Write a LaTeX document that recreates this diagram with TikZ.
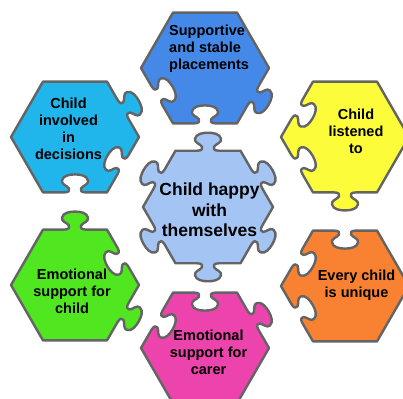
\documentclass[tikz,border=0pt]{standalone}
\usepackage{fontspec}
\setmainfont{Liberation Sans}
\usepackage{tikz}
\definecolor{PieceGray}{RGB}{100,100,100}
\definecolor{pcCentre}{RGB}{164,196,244}
\definecolor{pcBlue}{RGB}{68,137,232}
\definecolor{pcCyan}{RGB}{32,181,235}
\definecolor{pcYellow}{RGB}{252,252,58}
\definecolor{pcGreen}{RGB}{80,230,32}
\definecolor{pcOrange}{RGB}{248,130,50}
\definecolor{pcMagenta}{RGB}{236,67,172}

% one edge of a hexagon piece: #1 start corner angle, #2 radius, #3 = 1 tab out, -1 tab in
\newcommand{\jigedge}[3]{%
  -- ({#1+30+atan(-11/(#2*0.866))}:{sqrt((#2*0.866)^2+121)})
  .. controls ({#1+30+atan(-6/(#2*0.866))}:{sqrt((#2*0.866)^2+36)})
  and ({#1+30+atan(-5/(#2*0.866+2*(#3)))}:{sqrt((#2*0.866+2*(#3))^2+25)})
  .. ({#1+30+atan(-6/(#2*0.866+4*(#3)))}:{sqrt((#2*0.866+4*(#3))^2+36)})
  .. controls ({#1+30+atan(-8/(#2*0.866+7*(#3)))}:{sqrt((#2*0.866+7*(#3))^2+64)})
  and ({#1+30+atan(-14/(#2*0.866+8*(#3)))}:{sqrt((#2*0.866+8*(#3))^2+196)})
  .. ({#1+30+atan(-13/(#2*0.866+12*(#3)))}:{sqrt((#2*0.866+12*(#3))^2+169)})
  .. controls ({#1+30+atan(-12/(#2*0.866+17*(#3)))}:{sqrt((#2*0.866+17*(#3))^2+144)})
  and ({#1+30+atan(-5/(#2*0.866+18*(#3)))}:{sqrt((#2*0.866+18*(#3))^2+25)})
  .. ({#1+30}:{#2*0.866+18*(#3)})
  .. controls ({#1+30+atan(5/(#2*0.866+18*(#3)))}:{sqrt((#2*0.866+18*(#3))^2+25)})
  and ({#1+30+atan(12/(#2*0.866+17*(#3)))}:{sqrt((#2*0.866+17*(#3))^2+144)})
  .. ({#1+30+atan(13/(#2*0.866+12*(#3)))}:{sqrt((#2*0.866+12*(#3))^2+169)})
  .. controls ({#1+30+atan(14/(#2*0.866+8*(#3)))}:{sqrt((#2*0.866+8*(#3))^2+196)})
  and ({#1+30+atan(8/(#2*0.866+7*(#3)))}:{sqrt((#2*0.866+7*(#3))^2+64)})
  .. ({#1+30+atan(6/(#2*0.866+4*(#3)))}:{sqrt((#2*0.866+4*(#3))^2+36)})
  .. controls ({#1+30+atan(5/(#2*0.866+2*(#3)))}:{sqrt((#2*0.866+2*(#3))^2+25)})
  and ({#1+30+atan(6/(#2*0.866))}:{sqrt((#2*0.866)^2+36)})
  .. ({#1+30+atan(11/(#2*0.866))}:{sqrt((#2*0.866)^2+121)})
  -- (#1+60:#2)}

\begin{document}
\begin{tikzpicture}[x=1pt,y=1pt,
  jigpiece/.style={draw=PieceGray,line width=2.4pt,line join=round},
  pctext/.style={font=\bfseries\fontsize{14.5}{17}\selectfont,align=center,inner sep=0pt}
]
\useasboundingbox (0,0) rectangle (403,398);

% centre
\begin{scope}[shift={(208,191)}]
\draw[jigpiece,fill=pcCentre] (0:65) \jigedge{0}{65}{1} \jigedge{60}{65}{1} \jigedge{120}{65}{1}
  \jigedge{180}{65}{1} \jigedge{240}{65}{1} \jigedge{300}{65}{1} -- cycle;
\node[pctext,font=\bfseries\fontsize{17.5}{20.5}\selectfont] (happy) at (1.5,-3) {Child happy\\with\\themselves};
\end{scope}

% top
\begin{scope}[shift={(205,330)}]
\draw[jigpiece,fill=pcBlue] (0:64) -- (60:64) -- (120:64) -- (180:64)
  \jigedge{180}{64}{-1} \jigedge{240}{64}{-1} \jigedge{300}{64}{1} -- cycle;
\node[pctext,anchor=west,align=left] (stable) at (-36,19) {Supportive\\and stable\\placements};
\end{scope}

% upper left
\begin{scope}[shift={(75,261)}]
\draw[jigpiece,fill=pcCyan] (0:64) \jigedge{0}{64}{1} -- (120:64) -- (180:64) -- (240:64)
  \jigedge{240}{64}{-1} \jigedge{300}{64}{-1} -- cycle;
\node[pctext] (involved) at (-6.5,8.5) {Child\\involved\\in\\decisions};
\end{scope}

% upper right
\begin{scope}[shift={(345,261)}]
\draw[jigpiece,fill=pcYellow] (0:64) -- (60:64) -- (120:64) \jigedge{120}{64}{-1}
  \jigedge{180}{64}{-1} \jigedge{240}{64}{1} -- (360:64) -- cycle;
\node[pctext] (listened) at (11,5.5) {Child\\listened\\to};
\end{scope}

% lower left
\begin{scope}[shift={(75,113)}]
\draw[jigpiece,fill=pcGreen] (0:64) \jigedge{0}{64}{-1} \jigedge{60}{64}{1} -- (180:64)
  -- (240:64) -- (300:64) \jigedge{300}{64}{1} -- cycle;
\node[pctext] (forchild) at (-3,-6) {Emotional\\support for\\child};
\end{scope}

% lower right
\begin{scope}[shift={(345,112)}]
\draw[jigpiece,fill=pcOrange] (0:64) -- (60:64) \jigedge{60}{64}{-1} \jigedge{120}{64}{-1}
  \jigedge{180}{64}{-1} -- (300:64) -- cycle;
\node[pctext] (unique) at (11.5,1) {Every child\\is unique};
\end{scope}

% bottom
\begin{scope}[shift={(205,50)}]
\draw[jigpiece,fill=pcMagenta] (0:64) \jigedge{0}{64}{1} \jigedge{60}{64}{-1} \jigedge{120}{64}{-1}
  -- (240:64) -- (300:64) -- cycle;
\node[pctext] (forcarer) at (3.5,-4) {Emotional\\support for\\carer};
\end{scope}
\end{tikzpicture}
\end{document}
